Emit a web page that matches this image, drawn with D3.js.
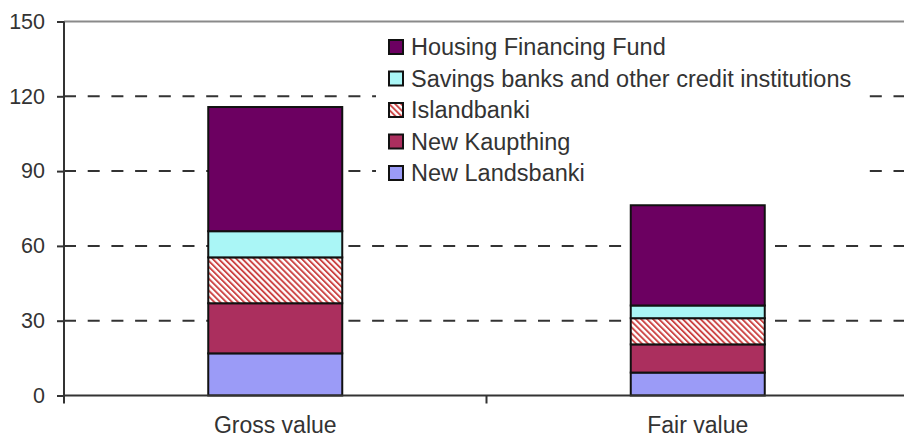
<!DOCTYPE html>
<html>
<head>
<meta charset="utf-8">
<script src="https://cdn.jsdelivr.net/npm/d3@7"></script>
<style>
  body { margin: 0; background: #fff; }
  text { font-family: "Liberation Sans", Arial, sans-serif; fill: #333; }
</style>
</head>
<body>
<svg id="chart" width="904" height="439"></svg>
<script>
// values (bn)
var categories = ["Gross value", "Fair value"];
var series = ["New Landsbanki", "New Kaupthing", "Islandbanki",
  "Savings banks and other credit institutions", "Housing Financing Fund"];
var newLandsbanki = [16.9, 9.2];
var newKaupthing = [20.1, 11.3];
var islandbanki = [18.4, 10.5];
var savingsBanks = [10.5, 5.1];
var housingFund = [49.8, 40.2];
var yTicks = [0, 30, 60, 90, 120, 150];

var colors = {
  "New Landsbanki": "#9b9bf7",
  "New Kaupthing": "#ab2f5e",
  "Islandbanki": "url(#hatch)",
  "Savings banks and other credit institutions": "#aaf6f6",
  "Housing Financing Fund": "#6c0061"
};

var svg = d3.select("#chart");
var plotLeft = 64, plotRight = 909, plotTop = 21.5, plotBottom = 395.5;

var defs = svg.append("defs");
var hatch = defs.append("pattern")
    .attr("id", "hatch")
    .attr("patternUnits", "userSpaceOnUse")
    .attr("width", 4.2)
    .attr("height", 4.2)
    .attr("patternTransform", "rotate(-45)");
hatch.append("rect").attr("width", 4.2).attr("height", 4.2).attr("fill", "#fff");
hatch.append("rect").attr("width", 1.9).attr("height", 4.2).attr("fill", "#cc4444");

var rows = categories.map(function(c, i) {
  return {
    cat: c,
    "New Landsbanki": newLandsbanki[i],
    "New Kaupthing": newKaupthing[i],
    "Islandbanki": islandbanki[i],
    "Savings banks and other credit institutions": savingsBanks[i],
    "Housing Financing Fund": housingFund[i]
  };
});
var stacked = d3.stack().keys(series)(rows);

var x = d3.scaleBand().domain(categories).range([plotLeft, plotRight]);
var y = d3.scaleLinear().domain([0, 150]).range([plotBottom, plotTop]);
var barW = 134;

// gridlines
svg.append("g").selectAll("line")
    .data(yTicks.filter(function(t) { return t > 0 && t < 150; }))
  .enter().append("line")
    .attr("x1", plotLeft).attr("x2", 904)
    .attr("y1", function(d) { return y(d); })
    .attr("y2", function(d) { return y(d); })
    .attr("stroke", "#333")
    .attr("stroke-width", 2)
    .attr("stroke-dasharray", "12,11.7");

// top frame line
svg.append("line")
    .attr("x1", plotLeft).attr("x2", 904)
    .attr("y1", y(150)).attr("y2", y(150))
    .attr("stroke", "#8a8a8a").attr("stroke-width", 2);

// legend background hides the grid
var legend = svg.append("g").attr("transform", "translate(388,0)");
legend.append("rect")
    .attr("x", -12).attr("y", 30).attr("width", 492).attr("height", 160)
    .attr("fill", "#fff");

// bars
svg.append("g").selectAll("g")
    .data(stacked)
  .enter().append("g")
    .attr("fill", function(d) { return colors[d.key]; })
  .selectAll("rect")
    .data(function(d) { return d; })
  .enter().append("rect")
    .attr("x", function(d) { return x(d.data.cat) + x.bandwidth() / 2 - barW / 2; })
    .attr("width", barW)
    .attr("y", function(d) { return y(d[1]); })
    .attr("height", function(d) { return y(d[0]) - y(d[1]); })
    .attr("stroke", "#111")
    .attr("stroke-width", 2);

// y axis
var yAxis = svg.append("g")
    .attr("transform", "translate(" + plotLeft + ",0)")
    .call(d3.axisLeft(y).tickValues(yTicks).tickSize(7).tickPadding(12));
yAxis.select(".domain").attr("stroke", "#333").attr("stroke-width", 2)
    .attr("d", "M0," + (y(150)) + "V" + (y(0) + 8));
yAxis.selectAll(".tick line").attr("stroke", "#333").attr("stroke-width", 2);
yAxis.selectAll(".tick text")
    .style("font-family", "'Liberation Sans', Arial, sans-serif")
    .style("font-size", "21.5px").attr("fill", "#333");

// x axis
var xAxis = svg.append("g")
    .attr("transform", "translate(0," + plotBottom + ")")
    .call(d3.axisBottom(x).tickSize(0).tickPadding(21));
xAxis.select(".domain").attr("stroke", "#333").attr("stroke-width", 2)
    .attr("d", "M" + plotLeft + ",0H904");
xAxis.selectAll(".tick text")
    .style("font-family", "'Liberation Sans', Arial, sans-serif")
    .style("font-size", "23px").attr("fill", "#333");
// divider tick between categories
xAxis.append("line")
    .attr("x1", x("Fair value")).attr("x2", x("Fair value"))
    .attr("y1", 0).attr("y2", 8)
    .attr("stroke", "#333").attr("stroke-width", 2);

// legend
var items = series.slice().reverse();
var item = legend.selectAll("g.item")
    .data(items)
  .enter().append("g")
    .attr("class", "item")
    .attr("transform", function(d, i) { return "translate(0," + (47 + i * 31.5) + ")"; });
item.append("rect")
    .attr("x", 1).attr("y", -7).attr("width", 14).attr("height", 14)
    .attr("fill", function(d) { return colors[d]; })
    .attr("stroke", "#111").attr("stroke-width", 2);
item.append("text")
    .attr("x", 23).attr("dy", "0.36em")
    .style("font-size", "23.5px")
    .text(function(d) { return d; });
</script>
</body>
</html>
